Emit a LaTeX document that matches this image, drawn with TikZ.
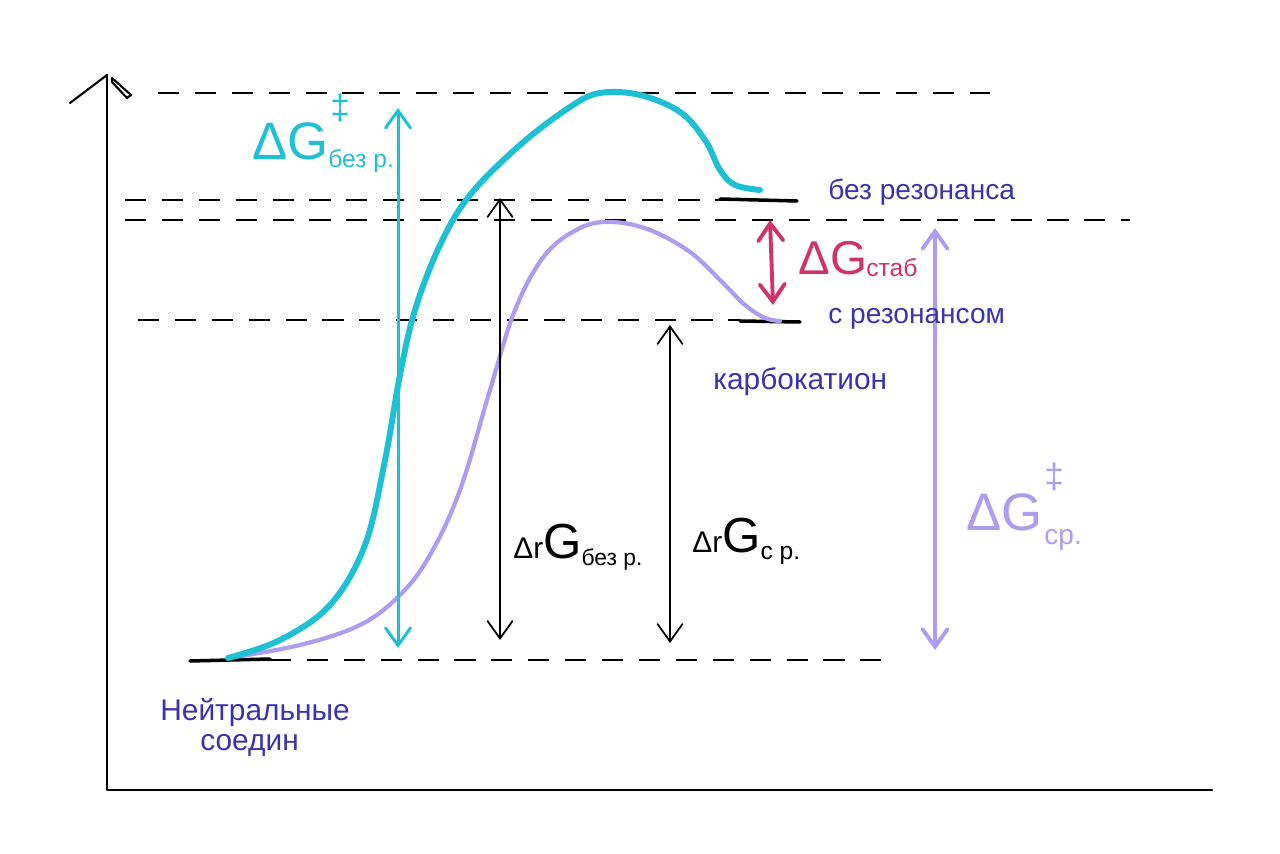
\documentclass[tikz,border=0pt]{standalone}
\usepackage{fontspec}
\setmainfont{Liberation Sans}
\usetikzlibrary{arrows.meta}
\definecolor{cyanc}{HTML}{1EC0D5}
\definecolor{lavc}{HTML}{AE9CF0}
\definecolor{magc}{HTML}{D0336B}
\definecolor{bluec}{HTML}{3A33B0}
\tikzset{
  dashline/.style={black, line width=0.8pt, dash pattern=on 12pt off 9pt},
  level/.style={black, line width=2pt, line cap=round},
  axis/.style={black, line width=1.2pt, line cap=round, line join=round},
  dbl/.style={line width=#1, line cap=round, {Straight Barb[length=3.5mm,width=5mm,line cap=round]}-{Straight Barb[length=3.5mm,width=5mm,line cap=round]}},
  lbl/.style={inner sep=0pt, anchor=base west},
}
\newcommand\fs[1]{\fontsize{#1}{#1}\selectfont}
\begin{document}
\begin{tikzpicture}[x=0.02cm,y=-0.02cm]
\useasboundingbox (0,0) rectangle (1280,854);
% axes
\coordinate (o) at (107,790);
\coordinate (ytop) at (107,75);
\coordinate (xend) at (1212,790);
\draw[axis] (ytop) -- (o) -- (xend);
\draw[axis] (70,103) -- (ytop);
\draw[axis] (112,78) -- (131,95) -- (127,98) -- (112,82) -- cycle;
% dashed reference lines
\coordinate (d1a) at (158,93);  \coordinate (d1b) at (990,93);
\coordinate (d2a) at (125,200); \coordinate (d2b) at (720,200);
\coordinate (d3a) at (125,220); \coordinate (d3b) at (1130,220);
\coordinate (d4a) at (138,320); \coordinate (d4b) at (740,320);
\coordinate (d5a) at (270,660); \coordinate (d5b) at (890,660);
\draw[dashline] (d1a) -- (d1b);
\draw[dashline] (d2a) -- (d2b);
\draw[dashline] (d3a) -- (d3b);
\draw[dashline] (d4a) -- (d4b);
\draw[dashline] (d5a) -- (d5b);
% energy levels
\coordinate (l1a) at (190,661); \coordinate (l1b) at (270,659);
\coordinate (l2a) at (720,199); \coordinate (l2b) at (797,201);
\coordinate (l3a) at (740,321); \coordinate (l3b) at (800,322);
\draw[level] (l1a) -- (l1b);
\draw[level] (l2a) -- (l2b);
\draw[level] (l3a) -- (l3b);
% curves
\draw[lavc, line width=2.4pt, line cap=round] plot[smooth, tension=0.6] coordinates {(228,658) (300,645) (360,625) (400,595) (430,555) (460,490) (490,390) (515,310) (545,255) (580,228) (612,222) (650,230) (690,252) (720,280) (745,305) (765,318) (780,321)};
\draw[cyanc, line width=3.4pt, line cap=round] plot[smooth, tension=0.6] coordinates {(228,658) (280,640) (330,605) (365,545) (385,460) (400,375) (415,310) (440,245) (470,195) (520,145) (570,107) (600,93) (640,95) (680,112) (705,140) (720,170) (735,185) (760,190)};
% arrows
\coordinate (ca) at (398,108); \coordinate (cb) at (398,648);
\draw[dbl=1.7pt, cyanc] (ca) -- (cb);
\coordinate (ba) at (500,198); \coordinate (bb) at (500,640);
\draw[dbl=1pt, black] (ba) -- (bb);
\coordinate (ka) at (670,325); \coordinate (kb) at (670,643);
\draw[dbl=1pt, black] (ka) -- (kb);
\coordinate (ma) at (770,220); \coordinate (mb) at (773,305);
\draw[dbl=2.2pt, magc] (ma) -- (mb);
\coordinate (pa) at (935,228); \coordinate (pb) at (935,650);
\draw[dbl=2.2pt, lavc] (pa) -- (pb);
% labels
\node[lbl, cyanc] (dgb) at (252,160) {\fs{30}ΔG};
\node[lbl, cyanc] (dgbs) at (330,120) {\fs{20}‡};
\node[lbl, cyanc] (dgbb) at (328,168) {\fs{14}без р.};
\node[lbl, bluec] (bez) at (828,200) {\fs{16}без резонанса};
\node[lbl, bluec] (sres) at (828,324) {\fs{16}с резонансом};
\node[lbl, bluec] (karb) at (713,390) {\fs{17}карбокатион};
\node[lbl, magc] (stab) at (798,275) {\fs{27}ΔG};
\node[lbl, magc] (stabs) at (866,277) {\fs{14}стаб};
\node[lbl, black] (drb) at (513,558) {\fs{17}Δr\fs{28}G\raisebox{-4pt}{\fs{13}без р.}};
\node[lbl, black] (drs) at (692,552) {\fs{17}Δr\fs{28}G\raisebox{-4pt}{\fs{14}с р.}};
\node[lbl, lavc] (dgc) at (966,530) {\fs{30}ΔG};
\node[lbl, lavc] (dgcs) at (1044,488) {\fs{20}‡};
\node[lbl, lavc] (dgcb) at (1044,544) {\fs{16}ср.};
\node[lbl, bluec] (neut) at (160,720) {\fs{17}Нейтральные};
\node[lbl, bluec] (soed) at (200,750) {\fs{17}соедин};
\end{tikzpicture}
\end{document}
